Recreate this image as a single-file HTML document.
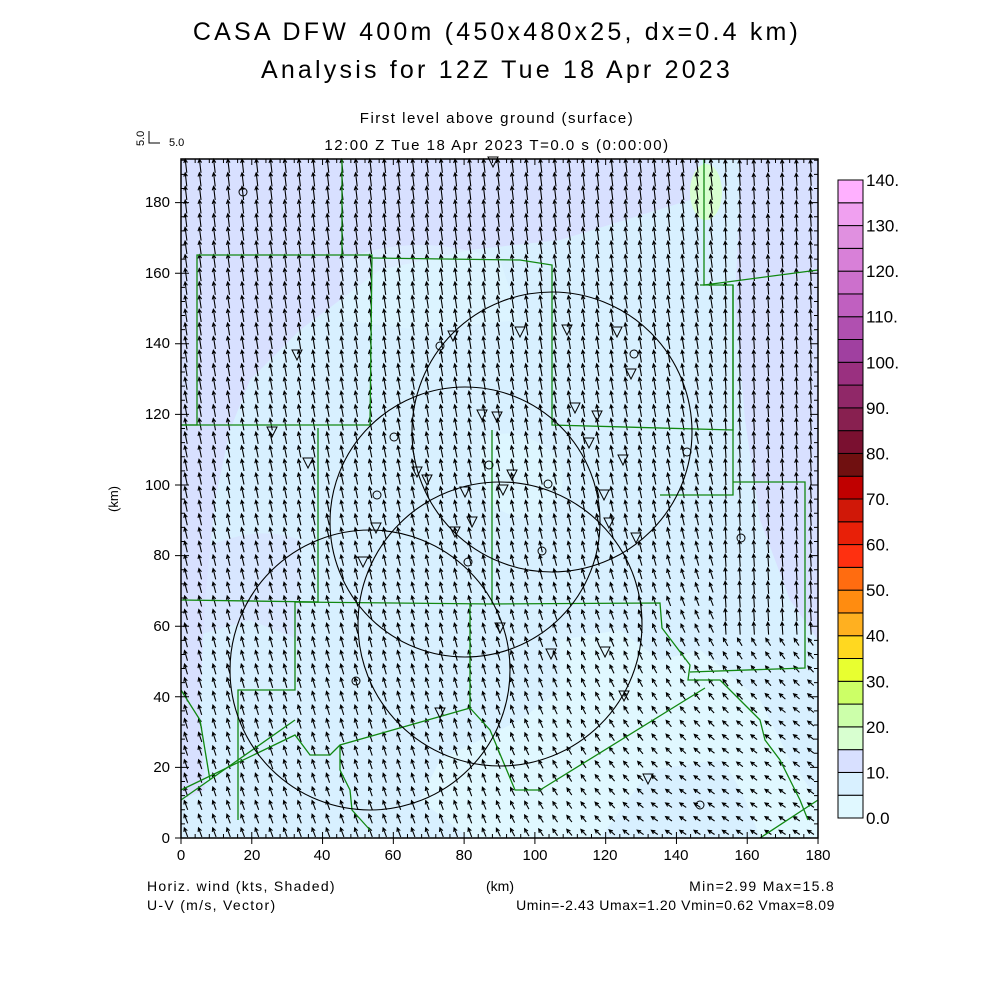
<!DOCTYPE html>
<html><head><meta charset="utf-8"><style>
body{margin:0;background:#fff;}
svg{display:block;font-family:"Liberation Sans",sans-serif;}
</style></head><body>
<svg id="s" width="1000" height="1000" viewBox="0 0 1000 1000" xmlns="http://www.w3.org/2000/svg">
<rect width="1000" height="1000" fill="#fff"/>
<text x="497" y="40" font-size="25" text-anchor="middle" fill="#000" letter-spacing="3.2">CASA DFW 400m (450x480x25, dx=0.4 km)</text>
<text x="497" y="78" font-size="25" text-anchor="middle" fill="#000" letter-spacing="3.2">Analysis for 12Z Tue 18 Apr 2023</text>
<text x="497" y="123" font-size="15" text-anchor="middle" letter-spacing="1.5">First level above ground (surface)</text>
<text x="497" y="150" font-size="15" text-anchor="middle" letter-spacing="1.5">12:00 Z Tue 18 Apr 2023    T=0.0 s (0:00:00)</text>
<rect x="181" y="159" width="637" height="679" fill="#d8f0ff"/>
<path d="M181 159 H700 L690 200 L560 240 L470 250 L380 270 L340 300 L300 330 L250 380 L230 430 L215 500 L205 600 L200 700 L205 790 L181 800 Z" fill="#d8e0ff"/>
<path d="M740 159 H818 V640 L790 600 L760 520 L745 420 L735 300 L740 200 Z" fill="#d8e0ff"/>
<path d="M181 560 Q250 520 300 540 L300 640 L250 620 L181 640 Z" fill="#d8e0ff" opacity="0.6"/>
<path d="M560 640 L620 630 L660 660 L700 650 L760 700 L790 760 L818 800 V838 H760 Q740 780 720 760 L650 770 L600 838 H470 L420 800 L440 760 L520 720 L560 690 Z" fill="#e0f8ff"/>
<path d="M480 440 Q520 420 560 460 Q570 500 540 520 Q500 520 480 490 Z" fill="#e0f8ff" opacity="0.7"/>
<path d="M340 260 Q420 230 500 260 L520 320 L420 330 L340 320 Z" fill="#e0f8ff" opacity="0.5"/>
<ellipse cx="706" cy="192" rx="16" ry="28" fill="#d8ffd0"/>
<g id="arrows" stroke="#000" stroke-width="1.1" fill="none"></g>
<g stroke="#118811" stroke-width="1.3" fill="none">
<polyline points="342,159 342,255 197,255 197,425 181,425"/>
<polyline points="342,255 372,255 370,425 181,425"/>
<polyline points="372,258 520,260 552,265 552,425 733,430 733,285 700,285"/>
<polyline points="704,159 704,285 818,270"/>
<polyline points="733,285 733,495 660,495"/>
<polyline points="733,482 805,482 805,668 690,672"/>
<polyline points="318,428 318,602 181,600"/>
<polyline points="318,602 295,602 295,690 238,690 238,820"/>
<polyline points="295,602 492,604 492,430"/>
<polyline points="492,604 660,603 662,628 690,665 688,680 720,680 740,700 760,720 765,740 780,760 800,800 808,820"/>
<polyline points="470,604 470,708 340,745 330,755 310,755 295,735 181,790"/>
<polyline points="295,720 181,800"/>
<polyline points="470,708 490,730 515,790 540,790 705,688"/>
<polyline points="340,745 340,770 350,790 352,810 370,830"/>
<polyline points="181,690 200,720 210,780"/>
<polyline points="760,838 818,800"/>
</g>
<g stroke="#000" stroke-width="1.1" fill="none">
<circle cx="552" cy="432" r="140"/>
<circle cx="465" cy="522" r="135"/>
<circle cx="500" cy="624" r="142"/>
<circle cx="370" cy="670" r="140"/>
</g>
<g id="marks" stroke="#000" stroke-width="1" fill="none"></g>
<rect x="181" y="159" width="637" height="679" fill="none" stroke="#000" stroke-width="1.5"/>
<g id="ticks" stroke="#000" stroke-width="1"></g>
<g font-size="15" text-anchor="middle">
<text x="181" y="860">0</text><text x="252" y="860">20</text><text x="322" y="860">40</text><text x="393" y="860">60</text><text x="464" y="860">80</text><text x="535" y="860">100</text><text x="605" y="860">120</text><text x="676" y="860">140</text><text x="747" y="860">160</text><text x="818" y="860">180</text>
</g>
<g font-size="15" text-anchor="end">
<text x="170" y="843">0</text><text x="170" y="772">20</text><text x="170" y="702">40</text><text x="170" y="631">60</text><text x="170" y="560">80</text><text x="170" y="490">100</text><text x="170" y="419">120</text><text x="170" y="348">140</text><text x="170" y="278">160</text><text x="170" y="207">180</text>
</g>
<text x="118" y="499" font-size="13" text-anchor="middle" transform="rotate(-90 118 499)">(km)</text>
<text x="500" y="891" font-size="14" text-anchor="middle">(km)</text>
<text x="147" y="891" font-size="14" letter-spacing="1.3">Horiz. wind (kts, Shaded)</text>
<text x="147" y="910" font-size="14" letter-spacing="1.3">U-V (m/s, Vector)</text>
<text x="835" y="891" font-size="14" text-anchor="end" letter-spacing="1.3">Min=2.99 Max=15.8</text>
<text x="835" y="910" font-size="14" text-anchor="end" letter-spacing="0.6">Umin=-2.43 Umax=1.20 Vmin=0.62 Vmax=8.09</text>
<text x="144" y="146" font-size="11" transform="rotate(-90 144 146)">5.0</text>
<polyline points="149,131 149,143 160,143" stroke="#000" fill="none"/>
<text x="169" y="146" font-size="11">5.0</text>
<g id="cbar" stroke="#000" stroke-width="1"></g>
<g id="clab" font-size="17"></g>
</svg>
<script>
var NS="http://www.w3.org/2000/svg";
function el(p,t,a){var e=document.createElementNS(NS,t);for(var k in a)e.setAttribute(k,a[k]);document.getElementById(p).appendChild(e);return e;}
var d="";
for(var j=0;j<50;j++){for(var i=0;i<45;i++){
 var x=186+i*14.2, y=166+j*13.6;
 var tx=(x-181)/637, ty=(y-159)/679;
 var lr=Math.max(0,(tx-0.45))*Math.max(0,(ty-0.55))*8; lr=Math.min(lr,1);
 var u=-0.8-1.0*ty-1.6*lr;
 var v=7.2-2.5*ty-2.5*lr;
 if(tx>0.85&&ty<0.7){v=6.5;u=-0.4;}
 var sc=1.9, dx=u*sc, dy=-v*sc;
 var x0=x-dx/2, y0=y-dy/2, x1=x+dx/2, y1=y+dy/2;
 var L=Math.sqrt(dx*dx+dy*dy), ux=dx/L, uy=dy/L, h=4;
 var ax=x1-h*(ux*0.9+uy*0.45), ay=y1-h*(uy*0.9-ux*0.45);
 var bx=x1-h*(ux*0.9-uy*0.45), by=y1-h*(uy*0.9+ux*0.45);
 d+="M"+x0.toFixed(1)+" "+y0.toFixed(1)+"L"+x1.toFixed(1)+" "+y1.toFixed(1)+"M"+ax.toFixed(1)+" "+ay.toFixed(1)+"L"+x1.toFixed(1)+" "+y1.toFixed(1)+"L"+bx.toFixed(1)+" "+by.toFixed(1);
}}
el("arrows","path",{d:d});
var tri=[[297,355],[272,432],[308,463],[453,336],[520,332],[567,330],[617,332],[631,374],[575,408],[597,416],[482,415],[497,417],[589,443],[623,460],[417,472],[427,480],[512,475],[503,490],[465,492],[604,495],[609,523],[376,528],[472,522],[455,532],[363,562],[636,538],[500,628],[551,654],[605,652],[440,713],[624,696],[648,779],[493,162]];
tri.forEach(function(p){el("marks","path",{d:"M"+(p[0]-5)+" "+(p[1]-5)+"H"+(p[0]+5)+"L"+p[0]+" "+(p[1]+5)+"Z"});});
var cir=[[243,192],[440,346],[634,354],[394,437],[489,465],[548,484],[377,495],[468,562],[542,551],[741,538],[356,681],[700,805],[687,452]];
cir.forEach(function(p){el("marks","circle",{cx:p[0],cy:p[1],r:4});});
var tt="";
for(var k=0;k<=45;k++){var x=181+k*14.155;var l=(k%5==0)?6:4;tt+="M"+x+" 159v"+l+"M"+x+" 838v-"+l;}
for(var k=0;k<=48;k++){var y=838-k*14.12;var l=(k%5==0)?8:4;tt+="M181 "+y+"h"+l+"M818 "+y+"h-"+l;}
for(var k=0;k<=9;k++){var x=181+k*70.78;tt+="M"+x+" 838v6";}
for(var k=0;k<=9;k++){var y=838-k*70.6;tt+="M181 "+y+"h-6";}
el("ticks","path",{d:tt});
var cols=["#e0f8ff","#d8f0ff","#d8e0ff","#d8ffd0","#ccffaa","#ccff66","#e8ff30","#ffd820","#ffb020","#ff8c10","#ff6c10","#ff3010","#e82008","#d01808","#c00000","#701010","#7a1030","#882050","#902868","#9a3080","#a040a0","#b050b0","#c060c0","#cc70cc","#d880d8","#e090e0","#f0a0f0","#ffb0ff"];
var cTop=180,cBot=818,cH=(cBot-cTop)/28;
for(var k=0;k<28;k++){el("cbar","rect",{x:838,y:(cBot-(k+1)*cH).toFixed(2),width:25,height:cH.toFixed(2),fill:cols[k]});}
var labs=["0.0","10.","20.","30.","40.","50.","60.","70.","80.","90.","100.","110.","120.","130.","140."];
for(var k=0;k<15;k++){var t=el("clab","text",{x:866,y:(cBot-k*2*cH+6).toFixed(1)});t.textContent=labs[k];}
</script>
</body></html>
